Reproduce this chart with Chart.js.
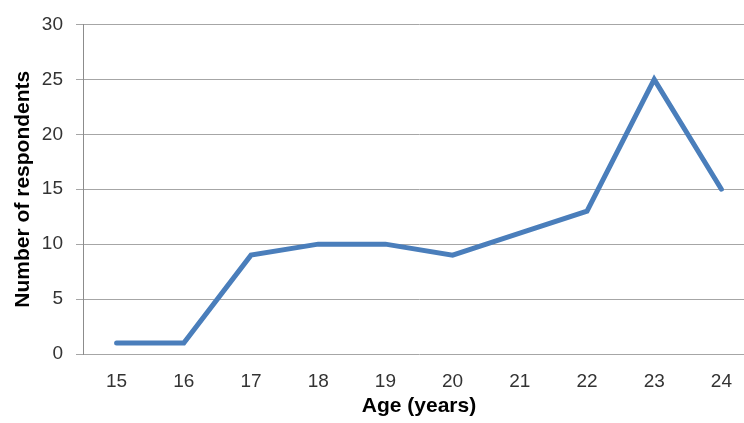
<!DOCTYPE html>
<html>
<head>
<meta charset="utf-8">
<script src="https://cdn.jsdelivr.net/npm/chart.js@4"></script>
<style>
  html, body { margin: 0; padding: 0; background: #fff; overflow: hidden; }
  #wrap { position: relative; width: 755px; height: 423px; }
</style>
</head>
<body>
<div id="wrap"><canvas id="chart"></canvas></div>
<script>
// Respondents by age
const ages = ['15', '16', '17', '18', '19', '20', '21', '22', '23', '24'];
const respondents = [1, 1, 9, 10, 10, 9, 11, 13, 25, 15];
const yTicks = [0, 5, 10, 15, 20, 25, 30];

const FONT = "'Liberation Sans', Arial, sans-serif";

new Chart(document.getElementById('chart'), {
  type: 'line',
  data: {
    labels: ages,
    datasets: [{
      data: respondents,
      borderColor: '#4a7ebb',
      borderWidth: 5,
      pointRadius: 0,
      pointHoverRadius: 0,
      tension: 0,
      fill: false,
      borderJoinStyle: 'miter',
      borderCapStyle: 'round'
    }]
  },
  options: {
    responsive: true,
    maintainAspectRatio: false,
    animation: false,
    events: [],
    layout: { padding: { top: 21, right: 0, bottom: 0, left: 0 } },
    plugins: { legend: { display: false }, tooltip: { enabled: false } },
    scales: {
      x: {
        type: 'category',
        offset: true,
        grid: { display: false, drawTicks: false },
        border: { display: false },
        ticks: {
          color: '#333',
          padding: 16,
          maxRotation: 0,
          font: { family: FONT, size: 19 }
        },
        title: {
          display: true,
          text: 'Age (years)',
          color: '#000',
          font: { family: FONT, size: 21, weight: 'bold' },
          padding: { top: 0, bottom: 4 }
        },
        afterFit: (scale) => { scale.height = 69; }
      },
      y: {
        min: 0,
        max: 30,
        afterBuildTicks: (scale) => { scale.ticks = yTicks.map(v => ({ value: v })); },
        grid: {
          color: '#a6a6a6',
          lineWidth: 1,
          drawTicks: true,
          tickLength: 7,
          tickColor: '#a6a6a6'
        },
        border: { display: true, color: '#8c8c8c', width: 1 },
        ticks: {
          color: '#333',
          padding: 13,
          font: { family: FONT, size: 19 }
        },
        title: {
          display: true,
          text: 'Number of respondents',
          color: '#000',
          font: { family: FONT, size: 21, weight: 'bold' },
          padding: { top: 11, bottom: 0 }
        },
        afterFit: (scale) => { scale.width = 83; }
      }
    }
  }
});
</script>
</body>
</html>
